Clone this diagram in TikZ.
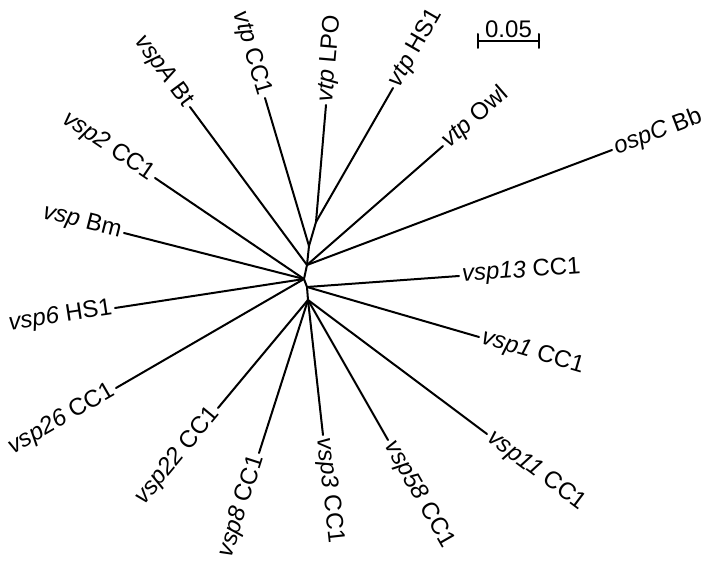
\documentclass[tikz,border=0pt]{standalone}
\usepackage{fontspec}
\setmainfont{Liberation Sans}
\usetikzlibrary{calc}
\begin{document}
\begin{tikzpicture}[x=1pt,y=-1pt,
  branch/.style={line width=2pt,line cap=round},
  leaf/.style={font=\fontsize{24}{27}\selectfont,inner sep=3pt}]
\useasboundingbox (0,0) rectangle (710,569);
\coordinate (n1) at (316,222);
\coordinate (n2) at (309,246);
\coordinate (n3) at (307,265);
\coordinate (n4) at (304,279);
\coordinate (n5) at (307,287);
\coordinate (n6) at (308,300);
\node[leaf,anchor=west,rotate=85.1] (lpo) at (326,105) {\textit{vtp} LPO};
\node[leaf,anchor=west,rotate=60.1] (hs1) at (393,88) {\textit{vtp} HS1};
\node[leaf,anchor=east,rotate=-73.4] (vtpcc) at (265,98) {\textit{vtp} CC1};
\node[leaf,anchor=east,rotate=-53.5] (bt) at (190,107) {\textit{vspA} Bt};
\node[leaf,anchor=west,rotate=41.2] (owl) at (443,146) {\textit{vtp} Owl};
\node[leaf,anchor=west,rotate=20.7] (ospc) at (612,150) {\textit{ospC} Bb};
\node[leaf,anchor=east,rotate=-34.1] (vsp2) at (155,178) {\textit{vsp2} CC1};
\node[leaf,anchor=east,rotate=-14.3] (bm) at (124,233) {\textit{vsp} Bm};
\node[leaf,anchor=east,rotate=8.7] (vsp6) at (115,308) {\textit{vsp6} HS1};
\node[leaf,anchor=east,rotate=30.1] (vsp26) at (116,388) {\textit{vsp26} CC1};
\node[leaf,anchor=west,rotate=4.1] (vsp13) at (459,276) {\textit{vsp13} CC1};
\node[leaf,anchor=west,rotate=-16.2] (vsp1) at (479,337) {\textit{vsp1} CC1};
\node[leaf,anchor=east,rotate=50.2] (vsp22) at (218,408) {\textit{vsp22} CC1};
\node[leaf,anchor=east,rotate=72.2] (vsp8) at (259,453) {\textit{vsp8} CC1};
\node[leaf,anchor=west,rotate=-83.7] (vsp3) at (323,435) {\textit{vsp3} CC1};
\node[leaf,anchor=west,rotate=-60.3] (vsp58) at (388,440) {\textit{vsp58} CC1};
\node[leaf,anchor=west,rotate=-36.8] (vsp11) at (487,434) {\textit{vsp11} CC1};
\draw[branch] (n1) -- (n2) -- (n3) -- (n4) -- (n5) -- (n6);
\draw[branch] (n1) -- (lpo.west);
\draw[branch] (n1) -- (hs1.west);
\draw[branch] (n2) -- (vtpcc.east);
\draw[branch] (n3) -- (bt.east);
\draw[branch] (n3) -- (owl.west);
\draw[branch] (n3) -- (ospc.west);
\draw[branch] (n4) -- (vsp2.east);
\draw[branch] (n4) -- (bm.east);
\draw[branch] (n4) -- (vsp6.east);
\draw[branch] (n4) -- (vsp26.east);
\draw[branch] (n5) -- (vsp13.west);
\draw[branch] (n5) -- (vsp1.west);
\draw[branch] (n6) -- (vsp22.east);
\draw[branch] (n6) -- (vsp8.east);
\draw[branch] (n6) -- (vsp3.west);
\draw[branch] (n6) -- (vsp58.west);
\draw[branch] (n6) -- (vsp11.west);
\coordinate (sbl) at (478,41);
\coordinate (sbr) at (539,41);
\draw[branch] (sbl) -- (sbr);
\draw[branch] ([yshift=7pt]sbl) -- ([yshift=-7pt]sbl);
\draw[branch] ([yshift=7pt]sbr) -- ([yshift=-7pt]sbr);
\node[leaf,anchor=south,inner sep=3pt] (sblabel) at ($(sbl)!0.5!(sbr)$) {0.05};
\end{tikzpicture}
\end{document}
